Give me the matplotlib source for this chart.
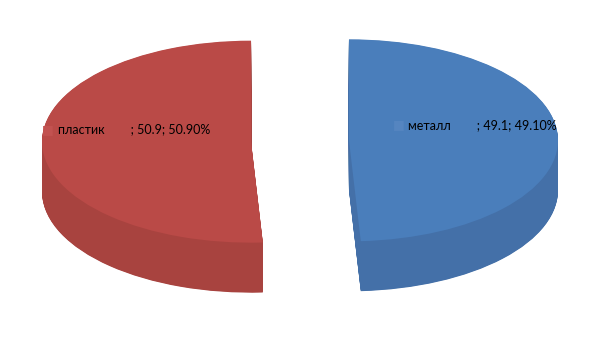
import numpy as np
import matplotlib.pyplot as plt
from matplotlib.transforms import Affine2D

# data
categories = ['металл', 'пластик']
values = [49.1, 50.9]
top_colors = ['#4A7EBB', '#BA4A47']
side_colors = ['#4470A8', '#A8433F']
key_colors = ['#5585C0', '#C25250']

plt.rcParams['font.family'] = ['Lato', 'DejaVu Sans']

fig = plt.figure(figsize=(6.05, 3.4), dpi=100)
ax = fig.add_axes([0, 0, 1, 1])

# pie geometry (pixels, y up)
cx, cy = 300, 199
rx, ry = 209, 101
depth = 50
explode = [49, 49]
squash = Affine2D().scale(1, ry / rx).translate(cx, cy)

# side walls: stack of shifted pies
for d in np.arange(depth, 0, -0.5):
    wedges, _ = ax.pie(values, radius=rx, startangle=90, counterclock=False,
                       explode=explode, colors=side_colors,
                       wedgeprops=dict(linewidth=0))
    for w in wedges:
        w.set_transform(squash + Affine2D().translate(0, -d) + ax.transData)

# top faces
wedges, _ = ax.pie(values, radius=rx, startangle=90, counterclock=False,
                   explode=explode, colors=top_colors,
                   wedgeprops=dict(linewidth=0))
for w in wedges:
    w.set_transform(squash + ax.transData)

# labels
total = sum(values)
start = 90.0
for name, v, e, kc in zip(categories, values, explode, key_colors):
    span = 360.0 * v / total
    mid = np.radians(start - span / 2)
    start -= span
    r = e + 0.6 * rx
    pct = 100.0 * v / total
    txt = ax.annotate(f"{name}        ; {v}; {pct:.2f}%",
                      xy=(r * np.cos(mid), r * np.sin(mid)),
                      xycoords=squash + ax.transData,
                      xytext=(6, 10), textcoords='offset points',
                      ha='center', va='center', fontsize=9, color='black')
    ax.annotate('■', xy=(0, 0.5), xycoords=txt, xytext=(-3, 0),
                textcoords='offset points', ha='right', va='center',
                fontsize=9, color=kc, family=['DejaVu Sans'])

ax.set_aspect('auto')
ax.set_xlim(0, 605)
ax.set_ylim(0, 340)
ax.axis('off')

fig.savefig('out.png', dpi=100)
